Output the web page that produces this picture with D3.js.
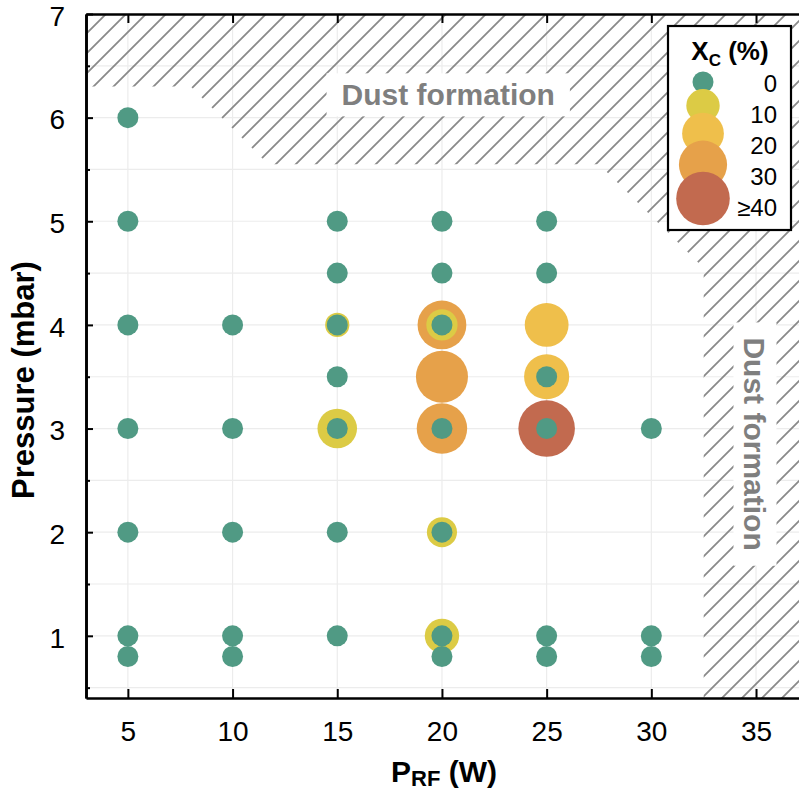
<!DOCTYPE html>
<html>
<head>
<meta charset="utf-8">
<script src="https://cdn.jsdelivr.net/npm/d3@7"></script>
<style>
  body { margin: 0; background: #fff; }
  svg { display: block; font-family: "Liberation Sans", Arial, sans-serif; }
</style>
</head>
<body>
<svg id="chart"></svg>
<script>
// ---- data ----
const pRF = [5, 5, 5, 5, 5, 5, 5,
  10, 10, 10, 10, 10,
  15, 15, 15, 15, 15, 15, 15, 15, 15,
  20, 20, 20, 20, 20, 20, 20, 20, 20, 20, 20, 20, 20,
  25, 25, 25, 25, 25, 25, 25, 25, 25,
  30, 30, 30];
const pressure = [6, 5, 4, 3, 2, 1, 0.8,
  4, 3, 2, 1, 0.8,
  5, 4.5, 4, 4, 3.5, 3, 3, 2, 1,
  5, 4.5, 4, 4, 4, 3.5, 3, 3, 2, 2, 1, 1, 0.8,
  5, 4.5, 4, 3.5, 3.5, 3, 3, 1, 0.8,
  3, 1, 0.8];
const xc = [0, 0, 0, 0, 0, 0, 0,
  0, 0, 0, 0, 0,
  0, 0, 3, 0, 0, 17, 0, 0, 0,
  0, 0, 31, 8, 0, 37, 34, 0, 7, 0, 11, 0, 0,
  0, 0, 23, 25, 0, 46, 0, 0, 0,
  0, 0, 0];

const xTicks = [5, 10, 15, 20, 25, 30, 35];
const yTicks = [1, 2, 3, 4, 5, 6, 7];
const yMinor = [0.5, 1.5, 2.5, 3.5, 4.5, 5.5, 6.5];

const legendValues = [0, 10, 20, 30, 40];
const legendLabels = ["0", "10", "20", "30", "\u226540"];
const palette = ["#509a84", "#dccb45", "#efbf4b", "#e6a14a", "#c26a4f"];

// dust formation region (data units)
const dustX = [3, 37.1, 37.1, 32.5, 32.5, 27.5, 11.7, 8, 3];
const dustY = [7, 7, 0.4, 0.4, 4.55, 5.55, 5.55, 6.3, 6.3];

// ---- layout ----
const width = 799;
const height = 793;
const margin = { top: 14, right: -1, bottom: 95, left: 86 };

const x = d3.scaleLinear().domain([3, 37.1]).range([margin.left, width - margin.right]);
const y = d3.scaleLinear().domain([0.4, 7]).range([height - margin.bottom, margin.top]);

const rScale = d3.scaleSqrt().domain([0, 40]).range([6.6, 26.8]);
const radius = v => Math.max(10.5, rScale(v));
const color = d3.scaleThreshold().domain([1e-6, 20, 30, 40]).range(palette);

const svg = d3.select("#chart").attr("width", width).attr("height", height);

// hatch pattern
svg.append("defs").append("pattern")
  .attr("id", "hatch")
  .attr("patternUnits", "userSpaceOnUse")
  .attr("width", 20).attr("height", 20)
  .append("path")
    .attr("d", "M-5,5 L5,-5 M0,20 L20,0 M15,25 L25,15")
    .attr("stroke", "#8a8a8a")
    .attr("stroke-width", 1.8);

// grid
const grid = svg.append("g");
grid.selectAll("line.v")
  .data(xTicks)
  .join("line")
    .attr("x1", d => x(d)).attr("x2", d => x(d))
    .attr("y1", y(0.4)).attr("y2", y(7))
    .attr("stroke", "#ececec").attr("stroke-width", 1.2);
grid.selectAll("line.h")
  .data(d3.merge([yTicks.slice(0, -1), yMinor]))
  .join("line")
    .attr("x1", x(3)).attr("x2", x(37.1))
    .attr("y1", d => y(d)).attr("y2", d => y(d))
    .attr("stroke", "#ececec").attr("stroke-width", 1.2);

// dust region
svg.append("path")
  .datum(d3.zip(dustX, dustY))
  .attr("d", d3.line().x(d => x(d[0])).y(d => y(d[1])).curve(d3.curveLinearClosed))
  .attr("fill", "url(#hatch)");

// dust labels with white boxes
function dustLabel(cx, cy, rotate) {
  const g = svg.append("g")
    .attr("transform", `translate(${x(cx)},${y(cy)}) rotate(${rotate})`);
  const box = g.append("rect").attr("fill", "#fff");
  const t = g.append("text")
    .attr("text-anchor", "middle")
    .attr("dy", "0.35em")
    .attr("font-size", 30)
    .attr("font-weight", "bold")
    .attr("fill", "#7f7f7f")
    .text("Dust formation");
  const b = t.node().getBBox();
  box.attr("x", b.x - 15).attr("y", -21.5)
    .attr("width", b.width + 30).attr("height", 43);
}
dustLabel(20.3, 6.22, 0);
dustLabel(34.95, 2.85, 90);

// points: larger drawn first so smaller ones sit on top
const points = d3.range(pRF.length)
  .map(i => ({ p: pRF[i], pr: pressure[i], xc: xc[i] }))
  .sort((a, b) => b.xc - a.xc);

svg.append("g")
  .selectAll("circle")
  .data(points)
  .join("circle")
    .attr("cx", d => x(d.p))
    .attr("cy", d => y(d.pr))
    .attr("r", d => radius(d.xc))
    .attr("fill", d => color(d.xc));

// axes
function styleAxis(g) {
  g.select(".domain").attr("stroke", "#000").attr("stroke-width", 2.6);
  g.selectAll(".tick line").attr("stroke", "#000").attr("stroke-width", 2);
  g.selectAll(".tick text")
    .attr("font-size", 28)
    .attr("font-family", "Liberation Sans, Arial, sans-serif")
    .attr("fill", "#000");
}

svg.append("g")
  .attr("transform", `translate(0,${y(0.4)})`)
  .call(d3.axisBottom(x).tickValues(xTicks).tickSizeInner(-9).tickSizeOuter(0).tickPadding(23).tickFormat(d3.format("d")))
  .call(styleAxis);

svg.append("g")
  .attr("transform", `translate(0,${y(7)})`)
  .call(d3.axisTop(x).tickValues(xTicks).tickSizeInner(-9).tickSizeOuter(0).tickFormat(""))
  .call(styleAxis);

svg.append("g")
  .attr("transform", `translate(${x(3)},0)`)
  .call(d3.axisLeft(y).tickValues(yTicks).tickSizeInner(-7).tickSizeOuter(0).tickPadding(21).tickFormat(d3.format("d")))
  .call(styleAxis)
  .call(g => g.selectAll(".tick text").attr("dy", "0.4em"));

svg.append("g")
  .attr("transform", `translate(${x(3)},0)`)
  .call(d3.axisLeft(y).tickValues(yMinor).tickSizeInner(-4).tickSizeOuter(0).tickFormat(""))
  .call(styleAxis);

// axis titles
const xTitle = svg.append("text")
  .attr("x", 444).attr("y", 782)
  .attr("text-anchor", "middle")
  .attr("font-size", 30)
  .attr("font-weight", "bold");
xTitle.append("tspan").text("P");
xTitle.append("tspan").attr("font-size", 22).attr("dy", 3.5).text("RF");
xTitle.append("tspan").attr("dy", -3.5).text(" (W)");

svg.append("text")
  .attr("transform", "translate(34,380) rotate(-90)")
  .attr("text-anchor", "middle")
  .attr("font-size", 31)
  .attr("font-weight", "bold")
  .text("Pressure (mbar)");

// legend
const legend = svg.append("g");
legend.append("rect")
  .attr("x", 668).attr("y", 26)
  .attr("width", 123).attr("height", 204)
  .attr("fill", "#fff")
  .attr("stroke", "#000")
  .attr("stroke-width", 2.2);

const lt = legend.append("text")
  .attr("x", 730).attr("y", 60)
  .attr("text-anchor", "middle")
  .attr("font-size", 26)
  .attr("font-weight", "bold");
lt.append("tspan").text("X");
lt.append("tspan").attr("font-size", 17).attr("dy", 6).text("C");
lt.append("tspan").attr("dy", -6).text(" (%)");

// stacked legend circles: each top sits 7px under the previous centre
let cy = 82;
const legendY = legendValues.map((v, i) => {
  if (i > 0) cy += 7 + radius(v);
  return cy;
});

legend.selectAll("circle")
  .data(legendValues)
  .join("circle")
    .attr("cx", 703)
    .attr("cy", (d, i) => legendY[i])
    .attr("r", d => radius(d))
    .attr("fill", d => color(d));

legend.selectAll("text.lab")
  .data(legendLabels)
  .join("text")
    .attr("class", "lab")
    .attr("x", 777)
    .attr("y", (d, i) => 84 + i * 30.8)
    .attr("dy", "0.35em")
    .attr("text-anchor", "end")
    .attr("font-size", 24)
    .text(d => d);
</script>
</body>
</html>
